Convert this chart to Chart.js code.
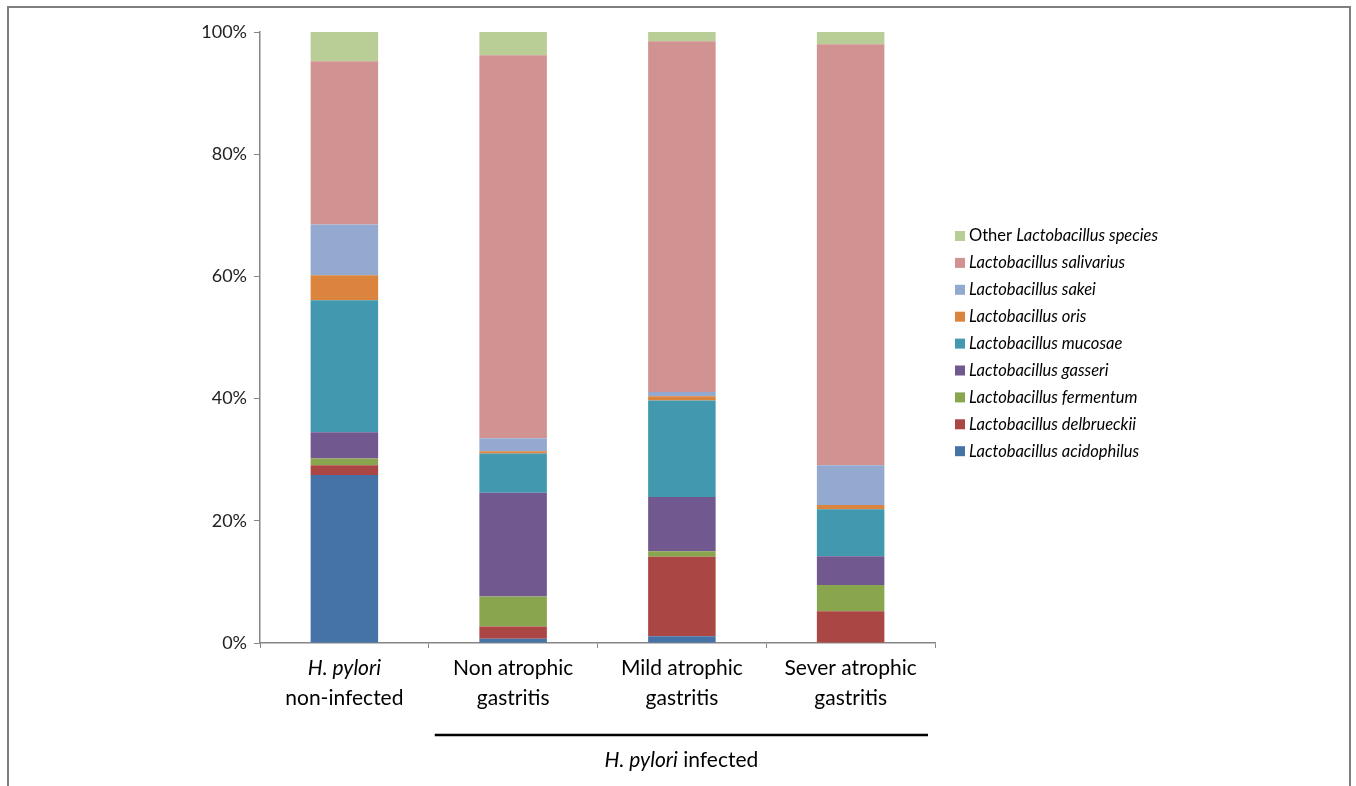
<!DOCTYPE html>
<html>
<head>
<meta charset="utf-8">
<script src="https://cdn.jsdelivr.net/npm/chart.js@4"></script>
<style>
  html, body { margin: 0; padding: 0; background: #fff; }
  #wrap { position: relative; width: 1356px; height: 786px; overflow: hidden; }
  #frame {
    position: absolute; left: 7px; top: 6px; width: 1344px; height: 790px;
    border: 2px solid #7f7f7f; border-bottom: none; box-sizing: border-box;
  }
  canvas { position: absolute; left: 0; top: 0; }
</style>
</head>
<body>
<div id="wrap">
  <div id="frame"></div>
  <canvas id="chart" width="1356" height="786"></canvas>
</div>
<script>
// categories, each as its two label lines
const categories = [
  ['H. pylori', 'non-infected'],
  ['Non atrophic', 'gastritis'],
  ['Mild atrophic', 'gastritis'],
  ['Sever atrophic', 'gastritis']
];
const groupLabel = ['H. pylori', ' infected'];
const yTicks = [0, 20, 40, 60, 80, 100];

// percentage of reads per species, one value per category
const acidophilus = [27.5, 0.7, 1.1, 0];
const delbrueckii = [1.6, 2.0, 13.0, 5.2];
const fermentum = [1.1, 4.9, 0.9, 4.3];
const gasseri = [4.3, 17.0, 8.9, 4.7];
const mucosae = [21.6, 6.4, 15.8, 7.7];
const oris = [4.1, 0.4, 0.7, 0.7];
const sakei = [8.3, 2.1, 0.7, 6.5];
const salivarius = [26.7, 62.7, 57.4, 68.9];
const other = [4.8, 3.8, 1.5, 2.0];

const series = [
  { name: 'acidophilus', data: acidophilus, color: '#4572A7' },
  { name: 'delbrueckii', data: delbrueckii, color: '#AA4643' },
  { name: 'fermentum', data: fermentum, color: '#89A54E' },
  { name: 'gasseri', data: gasseri, color: '#71588F' },
  { name: 'mucosae', data: mucosae, color: '#4198AF' },
  { name: 'oris', data: oris, color: '#DB843D' },
  { name: 'sakei', data: sakei, color: '#93A9CF' },
  { name: 'salivarius', data: salivarius, color: '#D19392' },
  { name: 'other', data: other, color: '#B9CD96' }
];

const FONT = 'Lato, "Open Sans", sans-serif';

// x labels, group bracket and the legend are drawn by hand (mixed italic text)
const extras = {
  id: 'extras',
  afterDraw(chart) {
    const ctx = chart.ctx;
    const x = chart.scales.x;
    const area = chart.chartArea;
    ctx.save();
    ctx.fillStyle = '#000';
    ctx.textBaseline = 'middle';
    ctx.textAlign = 'center';

    categories.forEach((lines, i) => {
      const cx = x.getPixelForValue(i);
      lines.forEach((line, j) => {
        const italic = line.startsWith('H. pylori');
        ctx.font = (italic ? 'italic ' : '') + '21px ' + FONT;
        ctx.fillText(line, cx, area.bottom + 25 + j * 30);
      });
    });

    // bracket over the infected groups
    const step = x.getPixelForValue(1) - x.getPixelForValue(0);
    const x0 = x.getPixelForValue(1) - step / 2 + 6;
    const x1 = x.getPixelForValue(3) + step / 2 - 7;
    ctx.strokeStyle = '#000';
    ctx.lineWidth = 2.5;
    ctx.beginPath();
    ctx.moveTo(x0, area.bottom + 92);
    ctx.lineTo(x1, area.bottom + 92);
    ctx.stroke();

    ctx.textAlign = 'left';
    ctx.font = 'italic 21px ' + FONT;
    const w1 = ctx.measureText(groupLabel[0]).width;
    ctx.font = '21px ' + FONT;
    const w2 = ctx.measureText(groupLabel[1]).width;
    let tx = (x0 + x1) / 2 - (w1 + w2) / 2;
    const ty = area.bottom + 117;
    ctx.font = 'italic 21px ' + FONT;
    ctx.fillText(groupLabel[0], tx, ty);
    ctx.font = '21px ' + FONT;
    ctx.fillText(groupLabel[1], tx + w1, ty);

    // legend, top item is the last dataset
    const lx = area.right + 20;
    let ly = area.top + 204;
    for (let k = chart.data.datasets.length - 1; k >= 0; k--) {
      const ds = chart.data.datasets[k];
      ctx.fillStyle = ds.backgroundColor;
      ctx.fillRect(lx, ly - 5, 10, 10);
      ctx.fillStyle = '#000';
      let px = lx + 14;
      if (ds.label === 'other') {
        ctx.font = '16.5px ' + FONT;
        ctx.fillText('Other ', px, ly);
        px += ctx.measureText('Other ').width;
        ctx.font = 'italic 16.5px ' + FONT;
        ctx.fillText('Lactobacillus species', px, ly);
      } else {
        ctx.font = 'italic 16.5px ' + FONT;
        ctx.fillText('Lactobacillus ' + ds.label, px, ly);
      }
      ly += 26.9;
    }
    ctx.restore();
  }
};

new Chart(document.getElementById('chart'), {
  type: 'bar',
  data: {
    labels: categories.map(c => c.join(' ')),
    datasets: series.map(s => ({
      label: s.name,
      data: s.data,
      backgroundColor: s.color,
      borderWidth: 0,
      barPercentage: 0.4,
      categoryPercentage: 1
    }))
  },
  options: {
    responsive: false,
    animation: false,
    layout: { padding: { top: 32, right: 421, left: 0, bottom: 0 } },
    plugins: { legend: { display: false }, tooltip: { enabled: false } },
    scales: {
      x: {
        stacked: true,
        afterFit(scale) { scale.height = 143; },
        border: { color: '#868686', width: 1.5 },
        grid: { drawOnChartArea: false, color: '#868686', tickLength: 5 },
        ticks: { display: false }
      },
      y: {
        stacked: true,
        min: 0,
        max: 100,
        afterFit(scale) { scale.width = 260; },
        afterBuildTicks(scale) { scale.ticks = yTicks.map(v => ({ value: v })); },
        border: { color: '#868686', width: 1.5 },
        grid: { drawOnChartArea: false, color: '#868686', tickLength: 6 },
        ticks: {
          color: '#222',
          padding: 7,
          font: { family: FONT, size: 18 },
          callback: v => v + '%'
        }
      }
    }
  },
  plugins: [extras]
});
</script>
</body>
</html>
